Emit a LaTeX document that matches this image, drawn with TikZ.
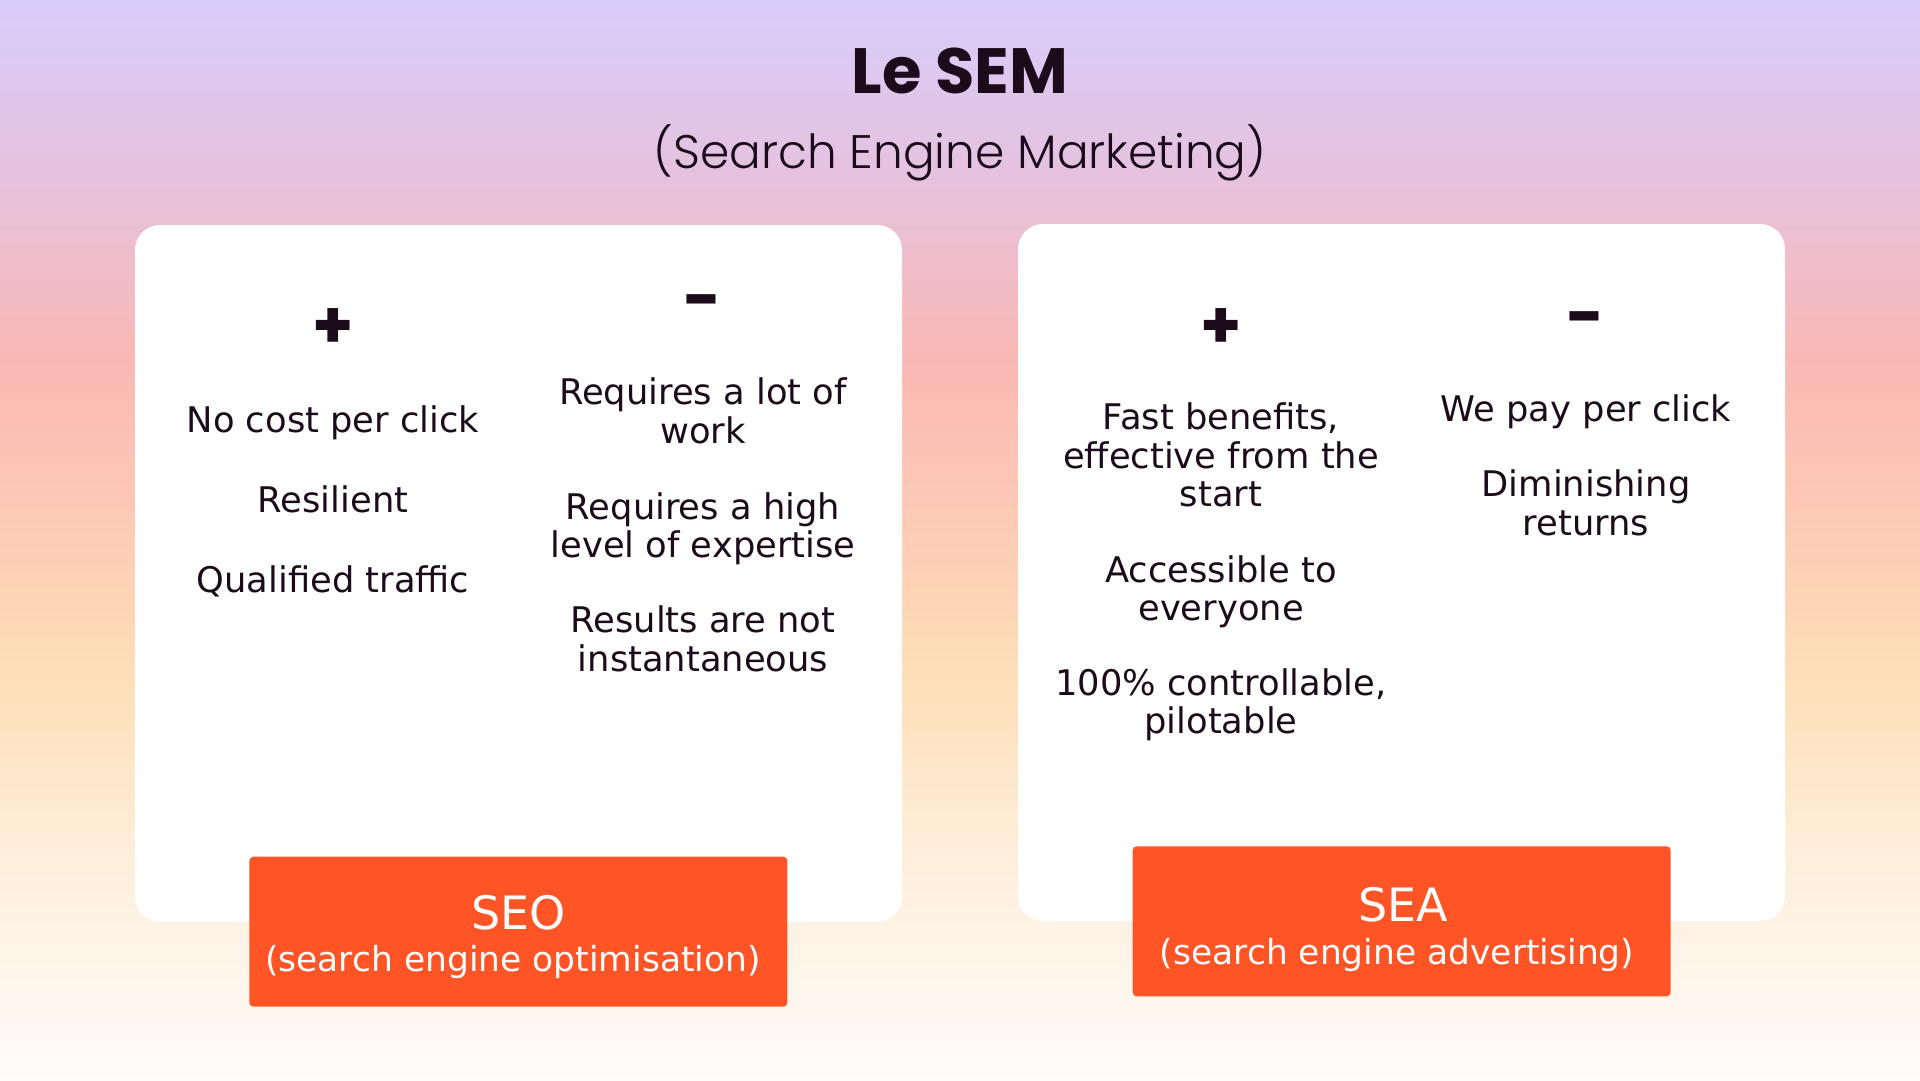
\documentclass[tikz,border=0pt]{standalone}
\usepackage{fontspec}
\setmainfont{DejaVu Sans}
\newfontfamily\titlefont{Poppins}
\newfontfamily\lighttitlefont{Poppins}[UprightFont={* Light}]
\definecolor{ink}{HTML}{1C0B1B}
\definecolor{brand}{HTML}{FF5426}
\definecolor{gA}{HTML}{D8CCFC}
\definecolor{gB}{HTML}{E6C2DD}
\definecolor{gC}{HTML}{FAB8B4}
\definecolor{gD}{HTML}{FDCBB5}
\definecolor{gE}{HTML}{FEDFB8}
\definecolor{gF}{HTML}{FEEEDA}
\definecolor{gG}{HTML}{FFFCF9}
\begin{document}
\begin{tikzpicture}[x=1pt,y=-1pt,
  card/.style={fill=white, rounded corners=25pt, minimum width=767pt, minimum height=697pt, inner sep=0pt},
  tag/.style={fill=brand, rounded corners=4pt, minimum width=538pt, minimum height=150pt, inner sep=0pt},
  item/.style={text=ink, align=center, font=\fontsize{35.3}{38.4}\selectfont, anchor=base},
  sign/.style={text=ink, font=\titlefont\bfseries\fontsize{66}{66}\selectfont, anchor=base},
  tagname/.style={text=white, font=\fontsize{46}{46}\selectfont, anchor=base},
  tagdesc/.style={text=white, font=\fontsize{34.5}{34.5}\selectfont, anchor=base},
]
\useasboundingbox (0,0) rectangle (1920,1080);
% background gradient
\fill[top color=gA, bottom color=gB] (0,0) rectangle (1920,181);
\fill[top color=gB, bottom color=gC] (0,180) rectangle (1920,361);
\fill[top color=gC, bottom color=gD] (0,360) rectangle (1920,521);
\fill[top color=gD, bottom color=gE] (0,520) rectangle (1920,681);
\fill[top color=gE, bottom color=gF] (0,680) rectangle (1920,851);
\fill[top color=gF, bottom color=gG] (0,850) rectangle (1920,1080);

% title
\node[anchor=base, text=ink, font=\titlefont\bfseries\fontsize{64}{64}\selectfont] (title) at (960,93) {Le SEM};
\node[anchor=base, text=ink, font=\lighttitlefont\fontsize{47}{47}\selectfont] (subtitle) at (960,168) {(Search Engine Marketing)};

% cards
\node[card] (seocard) at (518.5,573.5) {};
\node[card] (seacard) at (1401.5,572.5) {};

% SEO card content
\node[sign] (seoplus) at (333.5,348) {+};
\node[sign] (seominus) at (703,322) {-};
\node[item] (l1) at (333,432.7) {No cost per click};
\node[item] (l2) at (333,512.7) {Resilient};
\node[item] (l3) at (333,592.7) {Qualified traffic};
\node[item] (m1) at (703,443.3) {Requires a lot of\\work};
\node[item] (m2) at (703,557.7) {Requires a high\\level of expertise};
\node[item] (m3) at (703,671) {Results are not\\instantaneous};

% SEA card content
\node[sign] (seaplus) at (1221,348.5) {+};
\node[sign] (seaminus) at (1586,339) {-};
\node[item] (p1) at (1221,506.4) {Fast benefits,\\effective from the\\start};
\node[item] (p2) at (1221,620.7) {Accessible to\\everyone};
\node[item] (p3) at (1221,733.9) {100\% controllable,\\pilotable};
\node[item] (q1) at (1586,421.4) {We pay per click};
\node[item] (q2) at (1586,535) {Diminishing\\returns};

% tags
\node[tag] (seo) at (518.4,931.7) {};
\node[tagname] (seoname) at (518.6,929) {SEO};
\node[tagdesc] (seodesc) at (513,971) {(search engine optimisation)};
\node[tag] (sea) at (1401.7,921.3) {};
\node[tagname] (seaname) at (1403,921.7) {SEA};
\node[tagdesc] (seadesc) at (1397,964) {(search engine advertising)};
\end{tikzpicture}
\end{document}
